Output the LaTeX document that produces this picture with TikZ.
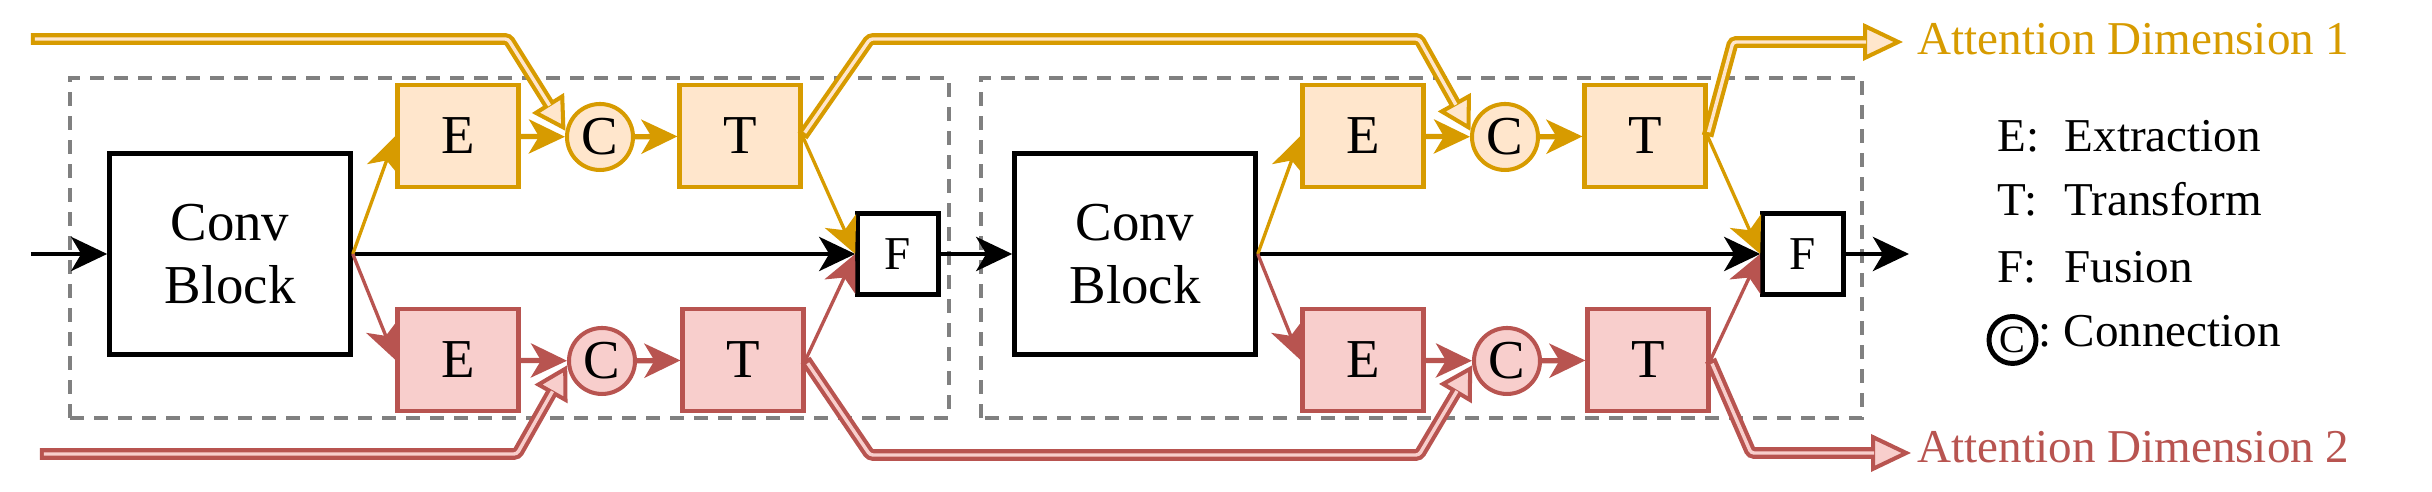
\documentclass[tikz,border=0pt]{standalone}
\usepackage{fontspec}
\setmainfont{Liberation Serif}
\usepackage{tikz}
\usetikzlibrary{arrows.meta}
\definecolor{dimA}{HTML}{D79B00}
\definecolor{dimAfill}{HTML}{FFE6CC}
\definecolor{dimB}{HTML}{B85450}
\definecolor{dimBfill}{HTML}{F8CECC}
\definecolor{stageGray}{HTML}{808080}
\newcommand{\opfont}{\fontsize{15.6}{17.9}\selectfont}
\newcommand{\keyfont}{\fontsize{13.4}{16}\selectfont}

\begin{document}
\begin{tikzpicture}[
  >={Stealth[length=3.6mm, width=3.4mm, inset=1mm]},
  blk/.style={draw, line width=1.3pt, fill=white, minimum width=2.41cm, minimum height=2.01cm, align=center, font=\opfont},
  op/.style={draw=#1, fill=#1fill, line width=1.15pt, minimum width=1.21cm, minimum height=1.02cm, font=\opfont},
  con/.style={circle, draw=#1, fill=#1fill, line width=1.15pt, minimum size=0.66cm, inner sep=0pt, font=\opfont},
  fuse/.style={draw, line width=1.3pt, minimum size=0.81cm, font=\keyfont},
  main/.style={->, line width=1.4pt},
  link/.style={->, draw=#1, line width=1.5pt},
  thinlink/.style={->, draw=#1, line width=0.95pt},
  attn/.style 2 args={draw=#1, line width=0.117cm, rounded corners=0.03cm,
    -{Triangle[length=#2, width=3.7mm, fill=#1fill, line width=1.15pt]},
    postaction={draw=#1fill, line width=0.034cm, -, shorten <=0.04cm, shorten >=#2-0.3mm}},
  stage/.style={draw=stageGray, line width=0.042cm, dash pattern=on 0.14cm off 0.1cm},
  legend/.style={anchor=base west, inner sep=0pt, font=\keyfont}
]
  \useasboundingbox (0,0) rectangle (24.32,4.92);

  % dashed stages
  \draw[stage] (0.70,0.74) rectangle (9.49,4.14);
  \draw[stage] (9.81,0.74) rectangle (18.62,4.14);

  % two stages: conv block, two attention branches, fusion
  \foreach \b/\x in {1/0, 2/9.05} {
    \node[blk] (conv\b) at (2.30+\x, 2.38) {Conv\\Block};
    \node[op=dimA] (eA\b) at (4.58+\x, 3.56) {E};
    \node[con=dimA] (cA\b) at (6.00+\x, 3.55) {C};
    \node[op=dimA] (tA\b) at (7.40+\x, 3.56) {T};
    \node[op=dimB] (eB\b) at (4.58+\x, 1.32) {E};
    \node[con=dimB] (cB\b) at (6.02+\x, 1.31) {C};
    \node[op=dimB] (tB\b) at (7.43+\x, 1.32) {T};
    \node[fuse] (fuse\b) at (8.98+\x, 2.38) {F};
    \draw[main] (conv\b.east) -- (fuse\b.west);
    \foreach \d/\col in {A/dimA, B/dimB} {
      \draw[thinlink=\col] (conv\b.east) -- (e\d\b.west);
      \draw[link=\col] (e\d\b) -- (c\d\b);
      \draw[link=\col] (c\d\b) -- (t\d\b);
      \draw[thinlink=\col] (t\d\b.east) -- (fuse\b.west);
    }
  }

  % main flow
  \coordinate (in) at (0.31, 2.38);
  \coordinate (out) at (19.09, 2.38);
  \draw[main] (in) -- (conv1.west);
  \draw[main] (fuse1.east) -- (conv2.west);
  \draw[main] (fuse2.east) -- (out);

  % attention dimension 1
  \coordinate (aInA) at (0.31, 4.53);
  \coordinate (aOutA) at (19.03, 4.50);
  \draw[attn={dimA}{3.3mm}] (aInA) -- (5.08,4.53) -- (cA1.170);
  \draw[attn={dimA}{3.3mm}] (tA1.east) -- (8.70,4.53) -- (14.19,4.53) -- (cA2.170);
  \draw[attn={dimA}{4mm}] (tA2.east) -- (17.33,4.50) -- (aOutA);
  \node[legend, text=dimA] (lblA) at (19.17, 4.37) {Attention Dimension 1};

  % attention dimension 2
  \coordinate (aInB) at (0.40, 0.38);
  \coordinate (aOutB) at (19.11, 0.39);
  \draw[attn={dimB}{3.3mm}] (aInB) -- (5.17,0.38) -- (cB1.187);
  \draw[attn={dimB}{3.3mm}] (tB1.east) -- (8.70,0.37) -- (14.19,0.37) -- (cB2.187);
  \draw[attn={dimB}{4mm}] (tB2.east) -- (17.51,0.39) -- (aOutB);
  \node[legend, text=dimB] (lblB) at (19.17, 0.29) {Attention Dimension 2};

  % legend
  \node[legend] (keyE) at (19.97, 3.40) {E:};
  \node[legend] (txtE) at (20.64, 3.40) {Extraction};
  \node[legend] (keyT) at (19.97, 2.76) {T:};
  \node[legend] (txtT) at (20.64, 2.76) {Transform};
  \node[legend] (keyF) at (19.97, 2.09) {F:};
  \node[legend] (txtF) at (20.64, 2.09) {Fusion};
  \node[circle, draw, line width=1.4pt, minimum size=0.47cm, inner sep=0pt,
    font=\fontsize{11}{13}\selectfont] (keyC) at (20.125, 1.52) {C};
  \node[legend] (colC) at (20.38, 1.45) {:};
  \node[legend] (txtC) at (20.63, 1.45) {Connection};
\end{tikzpicture}
\end{document}
